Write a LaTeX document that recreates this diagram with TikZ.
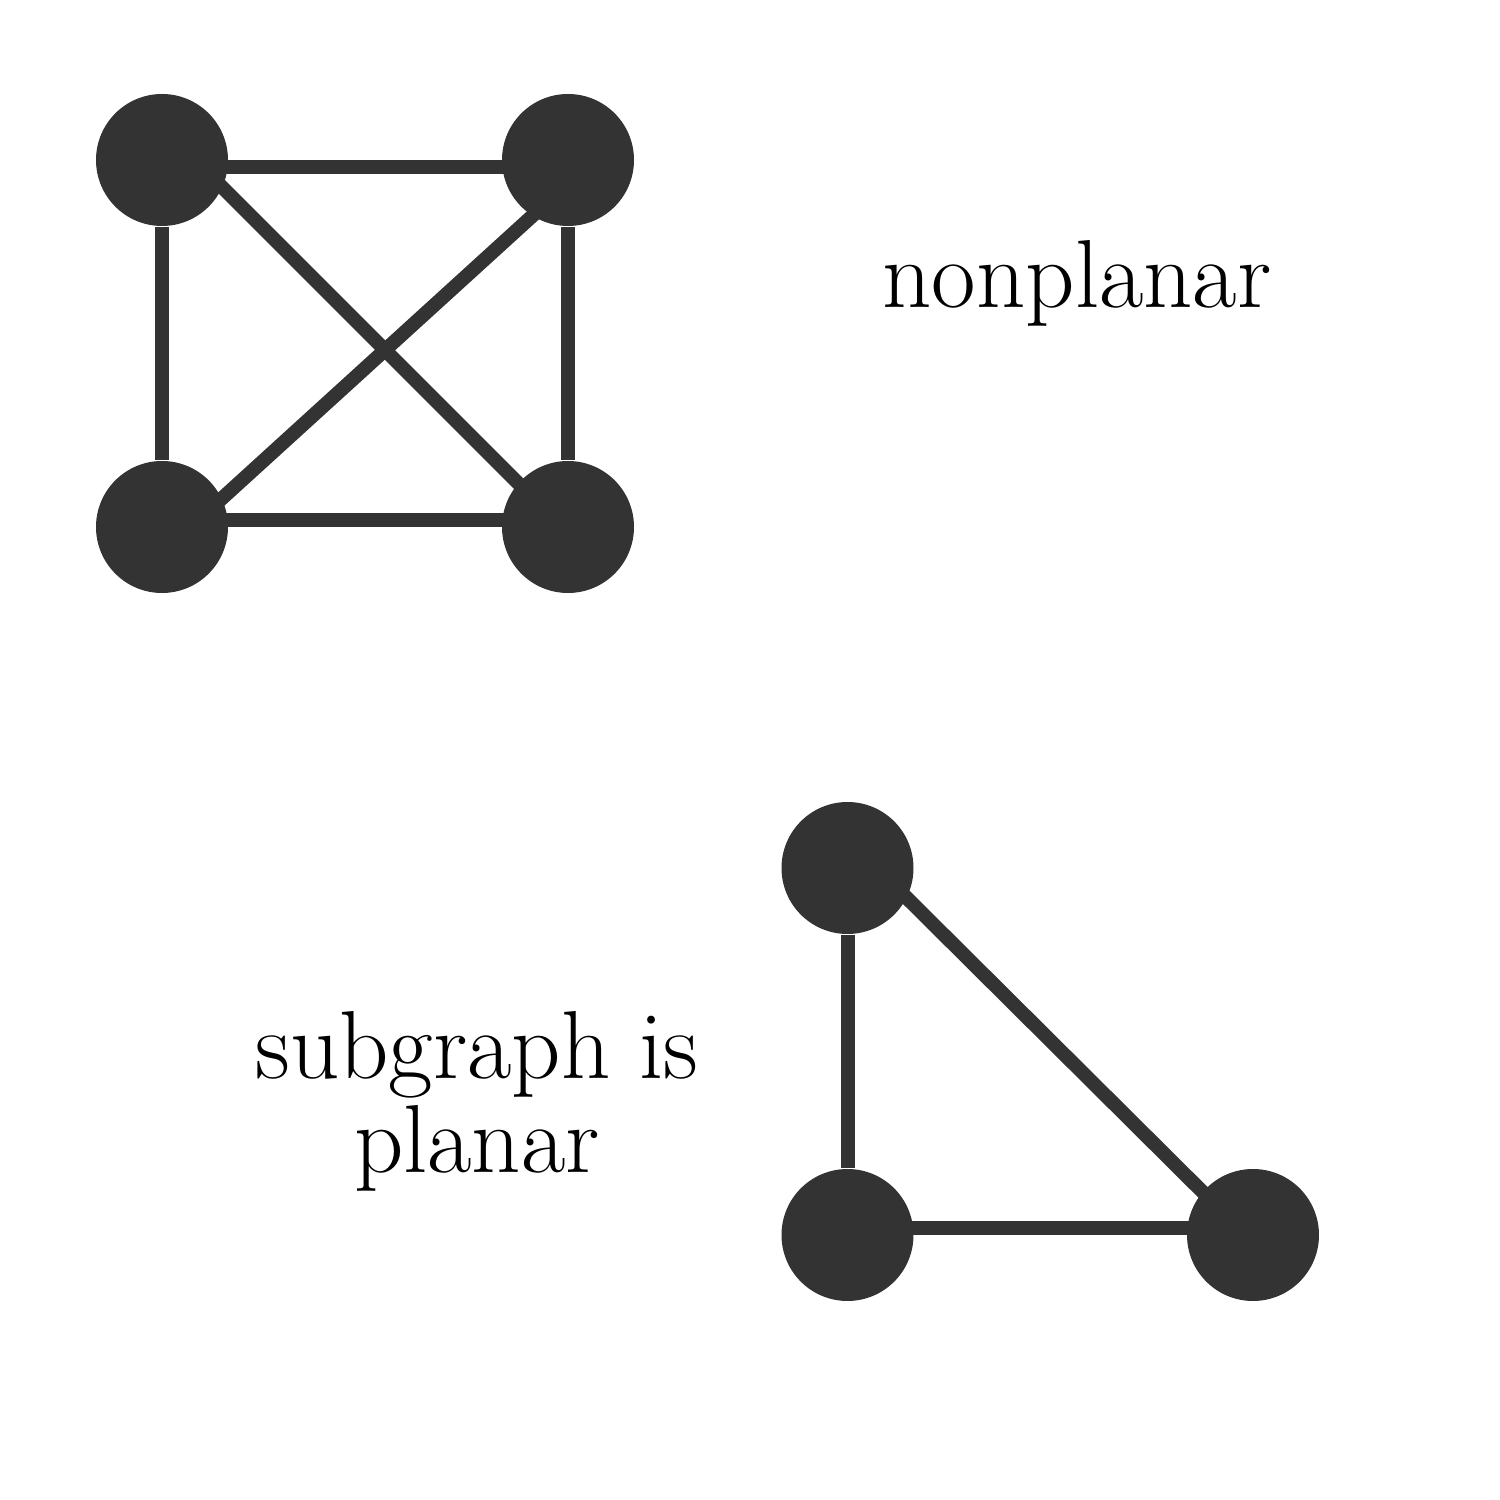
\documentclass[tikz,border=0pt]{standalone}
\usetikzlibrary{calc,backgrounds}
\definecolor{vertexgray}{RGB}{51,51,51}
\begin{document}
\begin{tikzpicture}[
	vertex/.style={circle, fill=vertexgray, minimum size=1.32cm, inner sep=0pt},
	edge/.style={draw=vertexgray, line width=0.14cm},
	label/.style={inner sep=0pt, font=\fontsize{27.5}{27}\selectfont}]
	\useasboundingbox(0,0) rectangle (15,15);
	% the four vertices of K4
	\node[vertex] (tl) at (1.62,13.40) {};
	\node[vertex] (tr) at (5.68,13.40) {};
	\node[vertex] (bl) at (1.62,9.73) {};
	\node[vertex] (br) at (5.68,9.73) {};
	% the triangle
	\node[vertex] (top) at (8.475,6.32) {};
	\node[vertex] (left) at (8.475,2.65) {};
	\node[vertex] (right) at (12.53,2.65) {};
	\begin{scope}[on background layer]
		\draw[edge]($(tl)+(0,-0.07)$)--($(tr)+(0,-0.07)$);
		\draw[edge]($(bl)+(0,0.07)$)--($(br)+(0,0.07)$);
		\draw[edge](tl)--(bl);
		\draw[edge](tr)--(br);
		\draw[edge]($(tl)+(0,0.33)$)--($(br)+(0,-0.06)$);
		\draw[edge]($(bl)+(0,-0.26)$)--($(tr)+(0,-0.235)$);
		\draw[edge](top)--(left);
		\draw[edge]($(left)+(0,0.07)$)--($(right)+(0,0.07)$);
		\draw[edge]($(top)+(0,0.29)$)--($(right)+(0,-0.07)$);
	\end{scope}
	\node[label, anchor=base] (nonplanar) at (10.77,11.92) {nonplanar};
	\node[label, align=center] (subplanar) at (4.77,3.986) {subgraph is\\planar};
\end{tikzpicture}
\end{document}
